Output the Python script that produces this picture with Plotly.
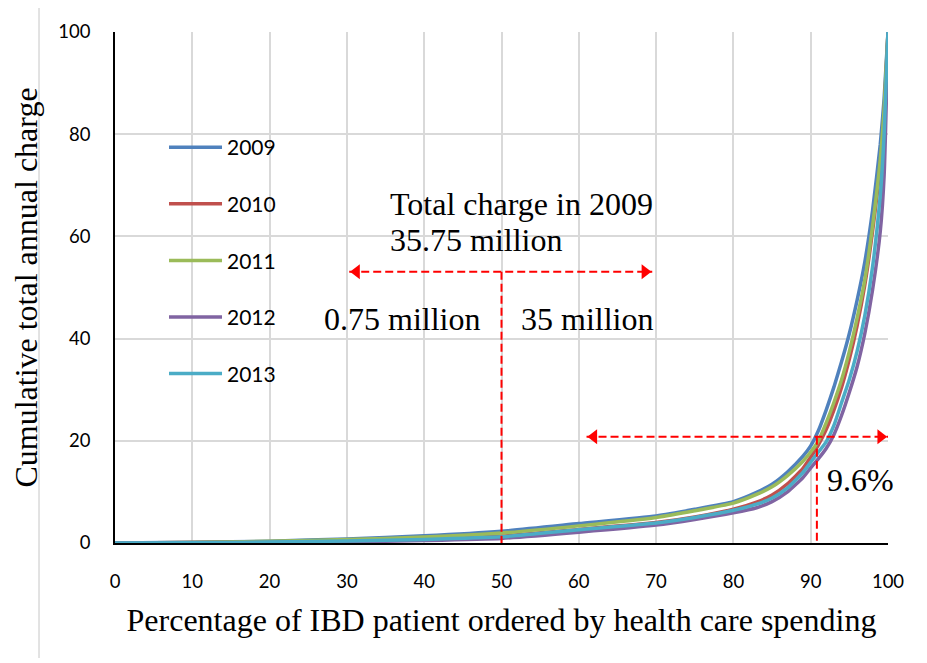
import plotly.graph_objects as go

# cumulative share of patients (%) and cumulative share of total annual charge (%)
pct_patients = [0, 10, 20, 30, 40, 50, 60, 70, 75, 80, 83, 85, 87, 89, 90,
                91, 92, 93, 94, 95, 96, 97, 98, 99, 99.5, 100]

charge_2009 = [0, 0.13, 0.35, 0.8, 1.4, 2.3, 3.8, 5.3, 6.6, 8.1, 9.9, 11.5, 13.9,
               17.0, 19.0, 22.0, 26.0, 30.5, 35.5, 41.0, 47.5, 55.0, 65.0, 78.0, 87.0, 100]
charge_2010 = [0, 0.08, 0.22, 0.45, 0.8, 1.35, 2.65, 4.0, 5.1, 6.6, 8.0, 9.4, 11.6,
               14.6, 16.8, 19.2, 22.2, 26.0, 30.5, 36.0, 42.5, 50.5, 61.0, 74.0, 84.0, 100]
charge_2011 = [0, 0.12, 0.32, 0.68, 1.15, 1.95, 3.35, 5.0, 6.3, 7.8, 9.5, 11.0, 13.2,
               16.0, 17.8, 20.0, 23.5, 27.5, 32.0, 37.5, 44.0, 51.5, 62.0, 75.0, 85.0, 100]
charge_2012 = [0, 0.03, 0.1, 0.25, 0.5, 0.9, 2.1, 3.5, 4.6, 5.9, 6.9, 8.1, 10.0,
               12.8, 14.7, 16.5, 18.5, 21.2, 25.0, 29.5, 34.5, 41.0, 49.5, 61.0, 72.0, 100]
charge_2013 = [0, 0.06, 0.18, 0.4, 0.7, 1.2, 2.6, 3.9, 5.0, 6.4, 7.6, 8.8, 10.8,
               13.8, 15.8, 17.8, 19.8, 23.0, 27.5, 32.0, 37.5, 44.5, 54.0, 68.0, 80.0, 100]

years = ["2009", "2010", "2011", "2012", "2013"]
series = [charge_2009, charge_2010, charge_2011, charge_2012, charge_2013]
colors = ["#4F81BD", "#C0504D", "#9BBB59", "#8064A2", "#4BACC6"]

# annotation guides (data units)
split_x = 50            # median patient
split_arrow_y = 53.1
split_arrow_x = [30.3, 69.5]
top_x = 90.8            # top 9.6 % of patients
top_arrow_y = 20.8
top_arrow_x = [61.0, 100]

serif = "Liberation Serif, Times New Roman, serif"
sans = "Lato, Calibri, sans-serif"
red = "#FF0000"

fig = go.Figure()
for yr, ys, col in zip(years, series, colors):
    fig.add_trace(go.Scatter(x=pct_patients, y=ys, name=yr, mode="lines",
                             line=dict(color=col, width=3.5, shape="spline", smoothing=0.5),
                             legendgroup=yr))

# dashed guide lines
for xs, ys in [(split_arrow_x, [split_arrow_y] * 2), ([split_x, split_x], [split_arrow_y, 0]),
               (top_arrow_x, [top_arrow_y] * 2), ([top_x, top_x], [top_arrow_y, 0])]:
    fig.add_trace(go.Scatter(x=xs, y=ys, mode="lines", showlegend=False, hoverinfo="skip",
                             line=dict(color=red, width=2, dash="8px,4px")))

# arrow heads (pulled in a bit so the tip sits at the line end)
tip = 0.95
fig.add_trace(go.Scatter(
    x=[split_arrow_x[0] + tip, top_arrow_x[0] + tip], y=[split_arrow_y, top_arrow_y],
    mode="markers", showlegend=False, hoverinfo="skip",
    marker=dict(symbol="triangle-left", size=13, color=red)))
fig.add_trace(go.Scatter(
    x=[split_arrow_x[1] - tip, top_arrow_x[1] - tip], y=[split_arrow_y, top_arrow_y],
    mode="markers", showlegend=False, hoverinfo="skip",
    marker=dict(symbol="triangle-right", size=13, color=red)))

labels = [
    ("Total charge in 2009", 35.3, 66.4),
    ("35.75 million", 35.3, 59.3),
    ("0.75 million", 26.8, 43.8),
    ("35 million", 52.3, 43.8),
    ("9.6%", 91.8, 12.4),
]
for txt, lx, ly in labels:
    fig.add_annotation(x=lx, y=ly, text=txt, showarrow=False, xanchor="left", yanchor="middle",
                       font=dict(family=serif, size=32, color="black"))

# light frame of the original chart area (left and top edges show)
fig.add_shape(type="rect", xref="paper", yref="paper", x0=-0.0983, x1=1.5, y0=-0.5, y1=1.0567,
              line=dict(color="#D9D9D9", width=1.5), layer="below")

# page body adds an 8px offset, so the figure is a bit smaller than the window
fig.update_layout(
    width=919, height=650,
    margin=dict(l=107, r=39, t=24, b=114.5),
    paper_bgcolor="white", plot_bgcolor="white",
    showlegend=True,
    legend=dict(x=0.0634, y=0.814, xanchor="left", yanchor="top",
                font=dict(family=sans, size=21, color="black"),
                bgcolor="rgba(0,0,0,0)", itemwidth=53,
                traceorder="grouped", tracegroupgap=26.3),
    xaxis=dict(range=[0, 100], tick0=0, dtick=10, showgrid=True, gridcolor="#D9D9D9",
               gridwidth=1.5, zeroline=False, showline=True, linecolor="black", linewidth=1.5,
               ticks="outside", ticklen=21, tickcolor="rgba(0,0,0,0)",
               tickfont=dict(family=sans, size=18.5, color="black"),
               title=dict(text="Percentage of IBD patient ordered by health care spending",
                          font=dict(family=serif, size=32, color="black"), standoff=18)),
    yaxis=dict(range=[0, 100], tick0=0, dtick=20, showgrid=True, gridcolor="#D9D9D9",
               gridwidth=1.5, zeroline=False, showline=True, linecolor="black", linewidth=1.5,
               ticks="outside", ticklen=19, tickcolor="rgba(0,0,0,0)",
               tickfont=dict(family=sans, size=18.5, color="black"),
               title=dict(text="Cumulative total annual charge",
                          font=dict(family=serif, size=32, color="black"), standoff=14)),
)

fig.write_html("out.html")
